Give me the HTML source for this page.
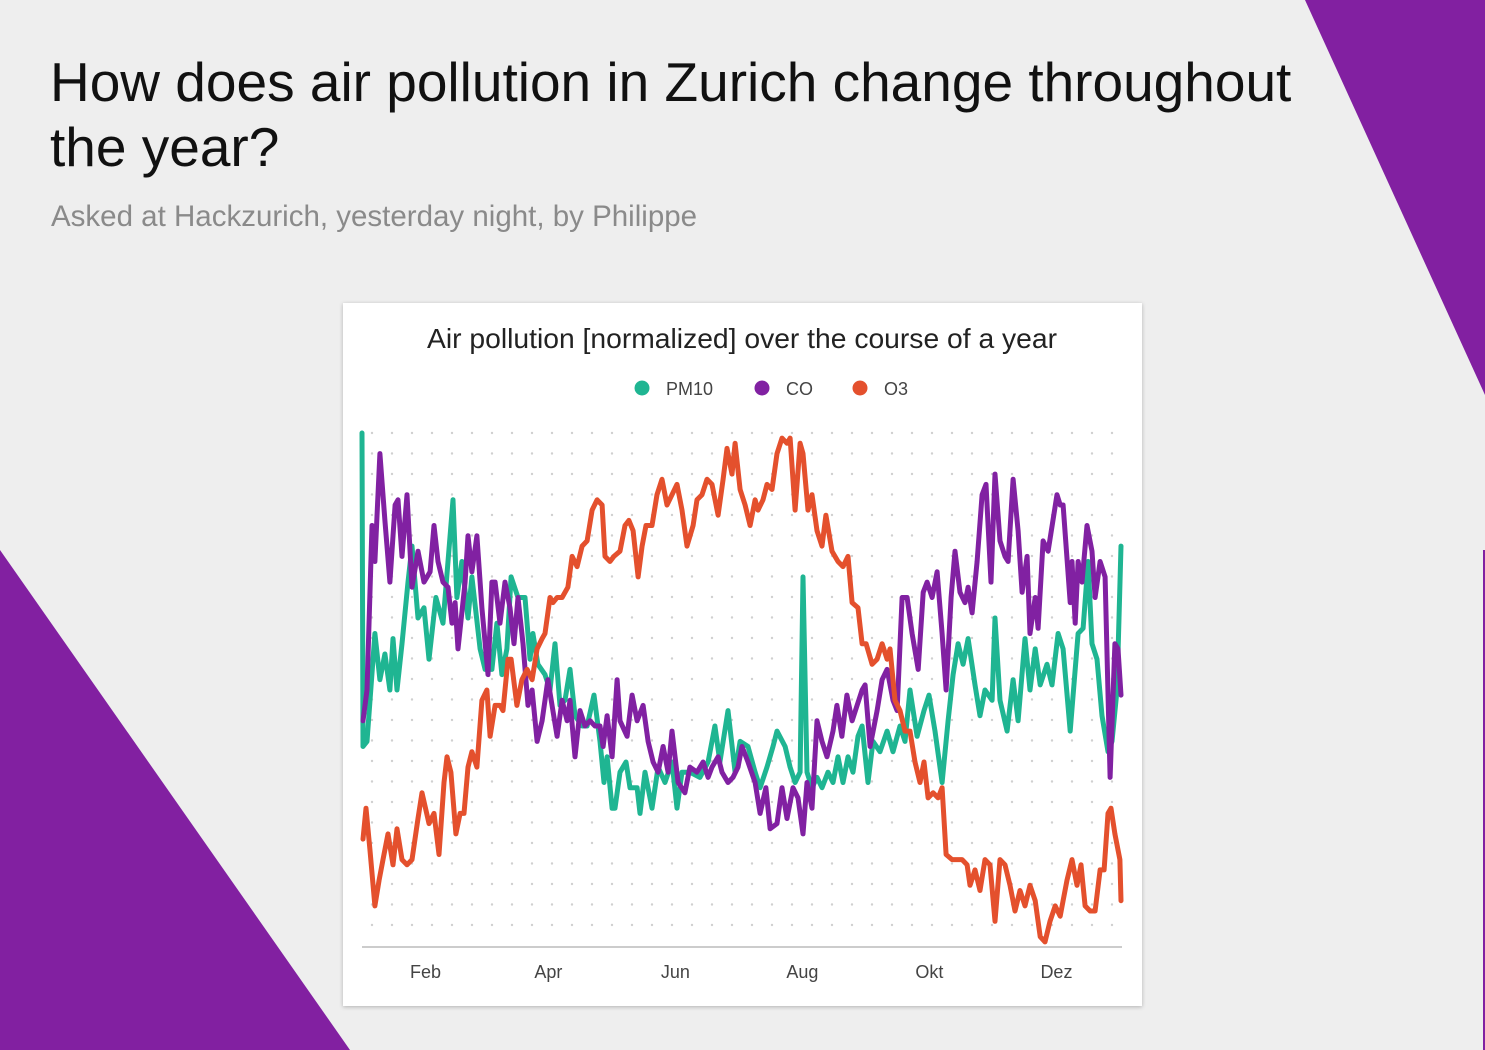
<!DOCTYPE html>
<html><head><meta charset="utf-8"><style>
html,body{margin:0;padding:0;}
body{width:1485px;height:1050px;background:#eeeeee;position:relative;overflow:hidden;font-family:"Liberation Sans",sans-serif;}
#bg{position:absolute;left:0;top:0;}
h1{position:absolute;left:50px;top:50px;margin:0;font-weight:normal;font-size:55px;line-height:65px;color:#111;width:1300px;}
.sub{position:absolute;left:51px;top:200px;font-size:29.5px;color:#8a8a8a;}
#card{position:absolute;left:343px;top:303px;width:799px;height:703px;background:#fff;box-shadow:0 1px 4px rgba(0,0,0,0.25);}
#chart{position:absolute;left:0;top:0;}
</style></head><body>
<svg id="bg" width="1485" height="1050">
<polygon points="1305,0 1485,0 1485,395" fill="#8220a1"/>
<polygon points="0,550 350,1050 0,1050" fill="#8220a1"/>
<rect x="1483" y="550" width="2" height="500" fill="#8220a1"/>
</svg>
<h1>How does air pollution in Zurich change throughout<br>the year?</h1>
<div class="sub">Asked at Hackzurich, yesterday night, by Philippe</div>
<div id="card"></div>
<svg id="chart" width="1485" height="1050"></svg>
<script>
const monthLabels=["Feb","Apr","Jun","Aug","Okt","Dez"];
const monthDays=[31,90,151,212,273,334];
const seriesNames=["PM10","CO","O3"];
const seriesColors=["#1fb592","#8121a2","#e4502d"];
const pm10Days=[0,0.5,2.4,6.2,8.6,11,13.4,14.9,16.8,19.2,22.1,24,26.9,29.8,32.2,35.5,38.9,43.7,45.6,48,50.9,52.8,56.7,59.1,62.4,64.8,67.2,69.6,71.6,74.9,78.3,80.7,82.1,84.5,87.9,90.3,92.7,95.1,97.5,99.9,102.3,105.7,108.1,111.4,114.3,116.2,117.7,120.1,121.5,123.9,126.8,128.7,132.1,133.5,135.9,139.3,142.2,145.5,148.9,151.3,153.7,157.5,162.3,166.2,169.5,171.9,175.8,179.2,181.6,185.4,188.8,191.2,194.5,197.4,199.3,203.2,205.6,208,210.4,211.8,213.7,216.1,218.5,220.9,223.8,226.2,228.6,231,233.4,235.8,238.2,240.2,243,245.4,248.8,252.2,255,258.4,260.8,263.2,266.6,269.9,272.3,275.2,278.6,281.5,283.9,286.3,288.7,291.1,294.4,296.8,299.2,302.6,304,306.4,309.8,312.7,315.1,318.4,320.8,323.3,325.7,329,331.4,334.3,336.7,340.1,343.9,346.3,348.7,350.6,353,355.4,358.3,360.2,362.6,364.5];
const pm10Values=[1.00,0.39,0.40,0.61,0.52,0.57,0.50,0.60,0.50,0.59,0.71,0.78,0.64,0.66,0.56,0.68,0.63,0.87,0.68,0.75,0.64,0.72,0.58,0.54,0.54,0.63,0.53,0.58,0.72,0.68,0.68,0.56,0.61,0.55,0.53,0.50,0.59,0.47,0.48,0.54,0.45,0.43,0.43,0.49,0.40,0.32,0.37,0.27,0.27,0.34,0.36,0.31,0.31,0.26,0.34,0.27,0.35,0.32,0.36,0.27,0.34,0.34,0.33,0.36,0.43,0.36,0.46,0.34,0.40,0.39,0.34,0.31,0.35,0.39,0.42,0.39,0.35,0.32,0.34,0.72,0.34,0.31,0.33,0.31,0.34,0.32,0.37,0.32,0.37,0.34,0.41,0.43,0.32,0.40,0.38,0.42,0.38,0.43,0.40,0.50,0.41,0.46,0.49,0.42,0.32,0.44,0.53,0.59,0.55,0.60,0.51,0.45,0.50,0.48,0.64,0.48,0.42,0.52,0.44,0.60,0.50,0.58,0.51,0.55,0.51,0.61,0.58,0.42,0.61,0.62,0.75,0.59,0.56,0.45,0.38,0.40,0.50,0.78];
const coDays=[0.5,2.4,4.8,6.2,8.6,11,13.4,15.9,17.3,19.2,21.6,24,26.9,29.8,32.7,34.6,36.5,38.9,41.3,43.2,44.7,46.1,49.5,50.9,52.8,55.2,57.6,60.5,62.4,63.9,66.3,68.7,71.1,73,74.9,77.3,79.7,81.7,84.1,86.5,89.3,91.7,93.7,96.1,98.5,99.9,102.3,104.7,107.1,109.5,111.9,114.3,115.8,117.7,120.1,122.5,123.9,127.3,129.7,132.1,135,137.4,139.8,142.2,144.6,147,148.9,151.8,155.1,157.5,160.9,163.8,166.2,168.1,171,172.9,175.8,178.2,180.6,182.5,185.4,188.8,191.2,194,196,199.3,201.7,204.1,207,209.4,211.8,213.7,216.1,218.5,220.9,223.3,226.2,228.1,230.5,232.9,235.4,237.8,240.2,241.6,244,247.4,249.8,252.2,255,257,259.4,261.8,264.2,267.1,269.5,271.4,273.8,276.2,278.6,280.5,282.9,284.8,287.2,289.6,291.1,293,295.4,297.8,299.7,302.1,304,306.4,308.8,310.3,312.7,315.1,317,319.4,320.8,323.3,324.7,327.1,329.5,333.8,335.3,336.7,340.1,341,342.5,343.9,345.8,348.2,350.6,352.1,354.5,356.9,359.3,361.6,363.1,364.5];
const coValues=[0.44,0.50,0.82,0.75,0.96,0.83,0.71,0.86,0.87,0.76,0.88,0.70,0.77,0.71,0.73,0.82,0.75,0.71,0.70,0.63,0.67,0.58,0.71,0.80,0.73,0.80,0.66,0.53,0.71,0.71,0.63,0.71,0.66,0.59,0.68,0.59,0.47,0.50,0.40,0.44,0.52,0.46,0.41,0.48,0.44,0.48,0.37,0.46,0.43,0.44,0.43,0.43,0.39,0.45,0.37,0.52,0.44,0.41,0.49,0.44,0.47,0.40,0.36,0.34,0.39,0.34,0.42,0.32,0.30,0.35,0.34,0.36,0.33,0.35,0.37,0.34,0.32,0.33,0.35,0.39,0.36,0.32,0.26,0.31,0.23,0.24,0.31,0.25,0.31,0.29,0.22,0.32,0.27,0.44,0.40,0.37,0.42,0.47,0.41,0.49,0.44,0.47,0.50,0.51,0.39,0.46,0.52,0.54,0.48,0.46,0.68,0.68,0.61,0.54,0.69,0.71,0.68,0.73,0.61,0.50,0.68,0.77,0.69,0.67,0.70,0.65,0.75,0.88,0.90,0.71,0.92,0.79,0.76,0.75,0.91,0.81,0.69,0.76,0.61,0.68,0.62,0.79,0.77,0.88,0.86,0.86,0.67,0.75,0.63,0.75,0.71,0.82,0.77,0.68,0.75,0.72,0.33,0.59,0.58,0.49];
const o3Days=[0.5,1.9,3.8,6.2,8.2,10.1,12.5,14.9,16.8,19.2,21.6,24,26.9,28.8,32.2,34.6,37,39.4,40.8,42.7,45.1,47.1,49,50.9,52.8,55.2,57.6,60,61.5,63.9,66.3,67.7,70.1,71.6,74.4,76.8,79.3,81.7,84.1,86.5,87.9,90.3,91.7,93.7,96.1,98.9,100.9,103.3,105.7,108.1,110.5,112.9,115.3,116.7,119.1,121,123.9,126.3,128.2,130.2,132.6,134.5,136.4,139.3,141.7,144.1,146.5,148.9,151.3,153.7,156.1,159,160.9,163.3,165.7,168.1,171,173.4,175.3,177.7,179.2,181.6,184,186.4,188.8,190.2,192.6,194.5,196.9,199.3,201.7,204.1,205.6,208,210.4,211.8,214.2,216.1,218.5,220.9,222.8,225.7,228.6,231,233.4,235.4,238.2,240.2,242.1,245,247.4,249.8,252.2,253.6,256,258.4,260.8,263.2,265.6,268,269.9,271.9,274.3,276.7,278.6,280.5,283.4,285.8,288.2,290.6,292,294.4,296.8,299.2,301.6,304,306.4,308.8,311.2,313.6,316,318.4,320.8,323.3,325.7,328,330.4,332.9,335.3,336.7,338.6,341,343.4,345.3,347.3,349.7,352.1,354.5,356.4,358.3,359.7,361.6,364,364.5];
const o3Values=[0.21,0.27,0.19,0.08,0.13,0.17,0.22,0.16,0.23,0.17,0.16,0.17,0.25,0.30,0.24,0.26,0.18,0.32,0.37,0.34,0.22,0.26,0.26,0.35,0.38,0.35,0.48,0.50,0.41,0.47,0.47,0.46,0.56,0.56,0.47,0.52,0.54,0.52,0.58,0.60,0.61,0.68,0.67,0.68,0.68,0.70,0.76,0.74,0.78,0.79,0.85,0.87,0.86,0.76,0.75,0.76,0.77,0.82,0.83,0.81,0.72,0.78,0.82,0.82,0.88,0.91,0.86,0.88,0.90,0.85,0.78,0.82,0.87,0.88,0.91,0.90,0.84,0.91,0.97,0.92,0.98,0.89,0.86,0.82,0.87,0.85,0.87,0.90,0.89,0.96,0.99,0.98,0.99,0.85,0.98,0.96,0.85,0.88,0.81,0.78,0.84,0.77,0.75,0.74,0.76,0.67,0.66,0.59,0.59,0.55,0.56,0.59,0.56,0.58,0.48,0.46,0.42,0.42,0.36,0.32,0.36,0.29,0.30,0.29,0.31,0.18,0.17,0.17,0.17,0.16,0.12,0.15,0.11,0.17,0.16,0.05,0.17,0.16,0.12,0.07,0.11,0.08,0.12,0.09,0.02,0.01,0.05,0.08,0.06,0.09,0.13,0.17,0.12,0.16,0.08,0.07,0.07,0.15,0.15,0.26,0.27,0.22,0.17,0.09];

const NS="http://www.w3.org/2000/svg";
const svg=document.getElementById('chart');
const X0=362,X1=1122,Y0=947,Y1=433;
function xScale(d){return X0+d*(X1-X0)/365;}
function yScale(v){return Y0-v*(Y0-Y1);}
function mk(tag,attrs,parent){const e=document.createElementNS(NS,tag);for(const k in attrs)e.setAttribute(k,attrs[k]);(parent||svg).appendChild(e);return e;}

const t=mk('text',{x:742,y:348,'text-anchor':'middle','font-size':27.5,fill:'#222','font-family':'Liberation Sans, sans-serif',textLength:630,lengthAdjust:'spacingAndGlyphs'});
t.textContent='Air pollution [normalized] over the course of a year';



const legX=[642,762,860];
for(let i=0;i<seriesNames.length;i++){
  const g=mk('g',{});
  
  
  mk('circle',{cx:legX[i],cy:388,r:7.5,fill:seriesColors[i]},g);
  const lt=mk('text',{x:legX[i]+24,y:395,'font-size':18,fill:'#444'},g);
  lt.textContent=seriesNames[i];
}

const grid=mk('g',{fill:'#d0d0d0'});


for(let gx=372;gx<=1115;gx+=20){for(let r=0;r<25;r++){mk('circle',{cx:gx,cy:433+r*20.5,r:1.2},grid);}}

const ax=mk('line',{x1:X0,y1:Y0,x2:X1,y2:Y0,stroke:'#cccccc','stroke-width':2});


for(let i=0;i<monthLabels.length;i++){
  const tl=mk('text',{x:xScale(monthDays[i])-1,y:978,'text-anchor':'middle','font-size':18,fill:'#444'});
  tl.textContent=monthLabels[i];
  
  
}

const allDays=[pm10Days,coDays,o3Days];
const allVals=[pm10Values,coValues,o3Values];
for(let s=0;s<3;s++){
  let d='';
  for(let i=0;i<allDays[s].length;i++){d+=(i?'L':'M')+xScale(allDays[s][i]).toFixed(1)+','+yScale(allVals[s][i]).toFixed(1);}
  const p=mk('path',{d:d,fill:'none',stroke:seriesColors[s],'stroke-width':5,'stroke-linejoin':'round','stroke-linecap':'round'});
  
  
}
</script>
</body></html>
